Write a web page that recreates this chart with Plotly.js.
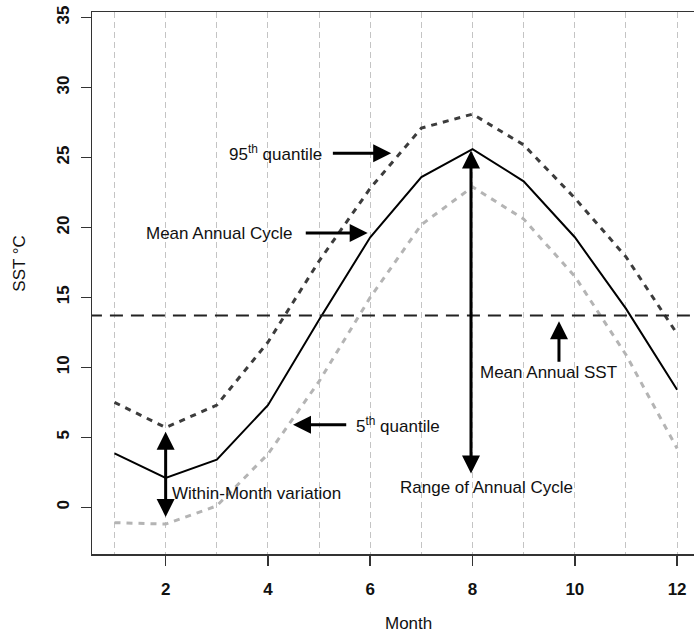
<!DOCTYPE html>
<html>
<head>
<meta charset="utf-8">
<script src="https://cdn.plot.ly/plotly-3.0.1.min.js"></script>
<style>html,body{margin:0;padding:0;background:#fff;}</style>
</head>
<body>
<div id="chart" style="width:694px;height:638px;"></div>
<script>
// Months and series (SST in °C)
var months = [1, 2, 3, 4, 5, 6, 7, 8, 9, 10, 11, 12];
var q95 = [7.5, 5.7, 7.3, 11.8, 17.6, 22.8, 27.1, 28.1, 25.9, 22.1, 17.9, 12.4];
var meanCycle = [3.85, 2.1, 3.4, 7.3, 13.4, 19.3, 23.6, 25.6, 23.3, 19.3, 14.2, 8.4];
var q05 = [-1.1, -1.2, 0.1, 3.8, 9.0, 15.0, 20.2, 22.9, 20.6, 16.5, 10.9, 4.2];
var meanSST = 13.7;
var xTicks = [2, 4, 6, 8, 10, 12];
var yTicks = [0, 5, 10, 15, 20, 25, 30, 35];

var font = "Liberation Sans, Arial, Helvetica, sans-serif";
var fs = 17;

var traces = [
  {x: months, y: q95, mode: 'lines', line: {color: '#3c3c3c', width: 3, dash: '6px,6px'}, hoverinfo: 'skip'},
  {x: months, y: q05, mode: 'lines', line: {color: '#b4b4b4', width: 3, dash: '6px,6px'}, hoverinfo: 'skip'},
  {x: months, y: meanCycle, mode: 'lines', line: {color: '#000', width: 2}, hoverinfo: 'skip'},
  {x: [0.5, 12.5], y: [meanSST, meanSST], mode: 'lines', line: {color: '#222', width: 2, dash: '13px,8px'}, hoverinfo: 'skip'}
];

function arrow(x, y, ax, ay, both) {
  return {x: x, y: y, ax: ax, ay: ay, xref: 'x', yref: 'y', axref: 'x', ayref: 'y',
    text: '', showarrow: true, arrowhead: 2, arrowsize: 1.2, arrowwidth: 3, arrowcolor: '#000',
    startarrowhead: 2, startarrowsize: 1.2, arrowside: both ? 'end+start' : 'end', standoff: 0, startstandoff: 0};
}
function label(x, y, text, anchor) {
  return {x: x, y: y, xref: 'x', yref: 'y', text: text, showarrow: false,
    xanchor: anchor || 'center', yanchor: 'middle', font: {family: font, size: fs, color: '#111'}};
}

var annotations = [
  label(4.14, 25.3, '95<sup>th</sup> quantile'),
  arrow(6.41, 25.3, 5.24, 25.3, false),
  label(3.04, 19.6, 'Mean Annual Cycle'),
  arrow(5.95, 19.6, 4.71, 19.6, false),
  label(5.69, 5.9, '5<sup>th</sup> quantile', 'left'),
  arrow(4.49, 5.9, 5.56, 5.9, false),
  label(2.09, 1.0, 'Within-Month variation', 'left'),
  arrow(2.0, 5.4, 2.0, -0.8, true),
  label(8.28, 1.43, 'Range of Annual Cycle'),
  arrow(7.97, 25.5, 7.97, 2.3, true),
  label(9.49, 9.6, 'Mean Annual SST'),
  arrow(9.69, 13.3, 9.69, 10.3, false),
  {xref: 'paper', yref: 'paper', x: 0.525, y: -0.128, text: 'Month', showarrow: false,
    xanchor: 'center', yanchor: 'middle', font: {family: font, size: fs, color: '#111'}},
  {xref: 'paper', yref: 'paper', x: -0.12, y: 0.537, text: 'SST °C', showarrow: false, textangle: -90,
    xanchor: 'center', yanchor: 'middle', font: {family: font, size: fs, color: '#111'}}
];

var layout = {
  width: 694, height: 638,
  margin: {l: 92, r: 0, t: 12, b: 84},
  paper_bgcolor: '#fff', plot_bgcolor: '#fff',
  showlegend: false,
  font: {family: font, color: '#111'},
  xaxis: {
    range: [0.56, 12.33], tickvals: xTicks, ticktext: xTicks.map(String),
    ticks: 'outside', ticklen: 10, tickwidth: 1.5, tickcolor: '#333',
    showline: true, linecolor: '#333', linewidth: 1.5, mirror: true,
    showgrid: true, gridcolor: '#c4c4c4', gridwidth: 1, griddash: '6px,4px',
    minor: {tick0: 1, dtick: 1, showgrid: true, gridcolor: '#c4c4c4', gridwidth: 1, griddash: '6px,4px', ticklen: 0},
    zeroline: false, ticklabelstandoff: 9,
    tickfont: {family: font, size: fs, color: '#111', weight: 'bold'}
  },
  yaxis: {
    range: [-3.34, 35.4], tickvals: yTicks, ticktext: yTicks.map(String), tickangle: -90,
    ticks: 'outside', ticklen: 10, tickwidth: 1.5, tickcolor: '#333',
    showline: true, linecolor: '#333', linewidth: 1.5, mirror: false,
    showgrid: false, zeroline: false, ticklabelstandoff: 5,
    tickfont: {family: font, size: fs, color: '#111', weight: 'bold'}
  },
  annotations: annotations
};

Plotly.newPlot('chart', traces, layout, {displayModeBar: false, staticPlot: true});
</script>
</body>
</html>
